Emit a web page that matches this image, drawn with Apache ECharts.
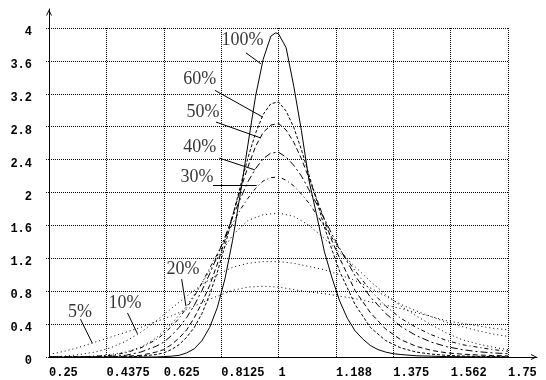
<!DOCTYPE html>
<html><head><meta charset="utf-8">
<script src="https://cdn.jsdelivr.net/npm/echarts@6/dist/echarts.min.js"></script>
<style>html,body{margin:0;padding:0;background:#fff}#c{width:546px;height:380px}</style>
</head><body><div id="c"></div>
<script>
// ---- tick labels ----
const xTickValues = [0.25, 0.4375, 0.625, 0.8125, 1, 1.1875, 1.375, 1.5625, 1.75];
const xTickLabels = ['0.25', '0.4375', '0.625', '0.8125', '1', '1.188', '1.375', '1.562', '1.75'];

// ---- series x grids ----
const xWide = [0.25,0.30,0.35,0.40,0.45,0.50,0.55,0.60,0.65,0.70,0.75,0.80,0.85,0.90,0.95,1.00,1.05,1.10,1.15,1.20,1.25,1.30,1.35,1.40,1.45,1.50,1.55,1.60,1.65,1.70,1.75];
const xMid = [0.25,0.30,0.35,0.40,0.45,0.50,0.55,0.60,0.625,0.65,0.675,0.70,0.725,0.75,0.775,0.80,0.825,0.85,0.875,0.90,0.925,0.95,0.975,1.00,1.025,1.05,1.075,1.10,1.125,1.15,1.175,1.20,1.25,1.30,1.35,1.40,1.45,1.50,1.55,1.60,1.65,1.70,1.75];
const xNarrow = [0.25,0.30,0.35,0.40,0.45,0.50,0.55,0.60,0.625,0.65,0.675,0.70,0.725,0.75,0.775,0.80,0.825,0.85,0.875,0.90,0.925,0.95,0.975,0.99,1.00,1.025,1.05,1.075,1.10,1.125,1.15,1.175,1.20,1.225,1.25,1.275,1.30,1.325,1.35,1.375,1.40,1.45,1.50,1.55,1.60,1.65,1.70,1.75];

// ---- series values ----
const y5   = [0.03,0.07,0.12,0.18,0.24,0.30,0.36,0.43,0.50,0.58,0.66,0.74,0.81,0.85,0.86,0.85,0.82,0.79,0.77,0.74,0.71,0.67,0.63,0.59,0.54,0.49,0.44,0.41,0.38,0.35,0.33];
const y10  = [0.00,0.01,0.03,0.06,0.11,0.19,0.30,0.44,0.59,0.74,0.88,1.00,1.09,1.14,1.16,1.16,1.14,1.10,1.06,1.00,0.93,0.84,0.74,0.64,0.56,0.49,0.42,0.37,0.32,0.28,0.25];
const y20  = [0,0,0.005,0.01,0.03,0.06,0.12,0.23,0.40,0.62,0.90,1.20,1.48,1.66,1.73,1.75,1.71,1.60,1.44,1.27,1.10,0.92,0.76,0.62,0.50,0.39,0.29,0.21,0.16,0.12,0.09];
const y30  = [0,0,0,0.01,0.02,0.05,0.11,0.21,0.28,0.37,0.47,0.60,0.74,0.90,1.08,1.25,1.44,1.62,1.79,1.93,2.05,2.14,2.18,2.19,2.15,2.08,1.98,1.87,1.73,1.59,1.45,1.31,1.05,0.81,0.62,0.47,0.36,0.27,0.20,0.15,0.12,0.09,0.07];
const y40  = [0,0,0,0,0.01,0.02,0.06,0.13,0.18,0.26,0.36,0.48,0.63,0.81,1.01,1.23,1.46,1.70,1.92,2.13,2.29,2.41,2.48,2.49,2.43,2.33,2.20,2.03,1.86,1.68,1.49,1.32,0.99,0.73,0.53,0.37,0.26,0.18,0.125,0.09,0.065,0.05,0.04];
const y50  = [0,0,0,0,0,0.01,0.02,0.06,0.09,0.15,0.23,0.33,0.48,0.66,0.87,1.13,1.42,1.72,2.03,2.31,2.56,2.73,2.82,2.84,2.76,2.61,2.41,2.17,1.92,1.67,1.41,1.20,0.81,0.54,0.34,0.21,0.13,0.08,0.05,0.035,0.025,0.018,0.013];
const y60  = [0,0,0,0,0,0,0.01,0.03,0.05,0.09,0.15,0.24,0.36,0.53,0.76,1.03,1.35,1.71,2.07,2.42,2.72,2.95,3.08,3.10,2.99,2.79,2.52,2.21,1.90,1.58,1.30,1.04,0.64,0.36,0.20,0.11,0.06,0.035,0.02,0.012,0.008,0.005,0.003];
const y100 = [0,0,0,0,0,0,0,0,0.005,0.01,0.02,0.05,0.10,0.20,0.36,0.60,0.95,1.42,1.98,2.58,3.17,3.62,3.90,3.94,3.93,3.76,3.29,2.75,2.14,1.72,1.28,0.96,0.68,0.47,0.32,0.22,0.14,0.09,0.06,0.04,0.03,0.015,0.01,0.005,0.003,0.002,0.001,0];

// ---- annotations (data coordinates) ----
const annText = ['100%', '60%', '50%', '40%', '30%', '20%', '10%', '5%'];
const annLabelAt = [[0.882,3.848],[0.743,3.372],[0.753,2.970],[0.743,2.556],[0.7335,2.190],[0.688,1.069],[0.498,0.654],[0.351,0.545]];
const annFrom = [[0.8936,3.698],[0.7923,3.242],[0.7956,2.857],[0.8064,2.418],[0.7858,2.084],[0.6835,0.947],[0.5065,0.536],[0.353,0.459]];
const annTo = [[0.9426,3.564],[0.948,2.918],[0.9426,2.662],[0.923,2.275],[0.9285,2.084],[0.6976,0.618],[0.539,0.283],[0.3915,0.167]];

const curves = [
  {name:'5%',   xs:xWide,   ys:y5,   dash:[1,3]},
  {name:'10%',  xs:xWide,   ys:y10,  dash:[1,3]},
  {name:'20%',  xs:xWide,   ys:y20,  dash:[1,3]},
  {name:'30%',  xs:xMid,    ys:y30,  dash:[1,3,4,3]},
  {name:'40%',  xs:xMid,    ys:y40,  dash:[7,3,2,3]},
  {name:'50%',  xs:xMid,    ys:y50,  dash:[5,3]},
  {name:'60%',  xs:xMid,    ys:y60,  dash:[3,2]},
  {name:'100%', xs:xNarrow, ys:y100, dash:'solid'}
];

const arrowPath = 'path://M0,10 L5,0 L10,10 L8.4,10 L5,3.2 L1.6,10 Z';
const monoLabel = {fontFamily:'Liberation Mono', fontWeight:'bold', fontSize:12, color:'#000'};

const series = curves.map(c => ({
  type:'line', name:c.name, xAxisIndex:0, yAxisIndex:0,
  data:c.xs.map((x,i)=>[x, c.ys[i]]),
  showSymbol:false, symbol:'none', smooth:false, silent:true,
  lineStyle:{color:'#000', width:1, type:c.dash}
}));

series.push({
  type:'scatter', xAxisIndex:0, yAxisIndex:0, silent:true,
  symbolSize:1, itemStyle:{color:'rgba(0,0,0,0)'},
  data: annText.map((t,i)=>({name:t, value:annLabelAt[i]})),
  label:{show:true, position:'inside', formatter:'{b}', fontFamily:'Liberation Serif', fontSize:18, color:'#000'},
  markLine:{
    silent:true, symbol:['none','none'], animation:false,
    lineStyle:{color:'#000', width:1, type:'solid'},
    label:{show:false},
    data: annFrom.map((f,i)=>[{coord:f},{coord:annTo[i]}])
  }
});

const chart = echarts.init(document.getElementById('c'), null, {renderer:'canvas'});
chart.setOption({
  backgroundColor:'#fff',
  animation:false,
  grid:[
    {left:49, right:38, top:28, bottom:23},
    {left:49, right:9, top:9, bottom:23}
  ],
  xAxis:[
    {type:'value', gridIndex:0, min:0.25, max:1.75,
     axisLine:{show:false},
     axisTick:{show:false, customValues:xTickValues},
     axisLabel:{show:true, customValues:xTickValues, align:'left', margin:10,
       formatter:(v)=>{const k=xTickValues.findIndex(t=>Math.abs(t-v)<1e-6); return k>=0?xTickLabels[k]:'';},
       ...monoLabel, showMinLabel:true, showMaxLabel:true},
     splitLine:{show:true, lineStyle:{color:'#000', width:1, type:[1,1]}}},
    {type:'value', gridIndex:1, min:0, max:1,
     axisLine:{show:true, onZero:false, symbol:['none', arrowPath], symbolSize:[6,6], symbolOffset:[0,-3], lineStyle:{color:'#000', width:1}},
     axisTick:{show:false}, axisLabel:{show:false}, splitLine:{show:false}}
  ],
  yAxis:[
    {type:'value', gridIndex:0, min:0, max:4, interval:0.4,
     axisLine:{show:false},
     axisTick:{show:true, length:4, lineStyle:{color:'#000', width:1, type:[1,1]}},
     axisLabel:{show:true, margin:17, verticalAlign:'top', lineHeight:8, ...monoLabel},
     splitLine:{show:true, lineStyle:{color:'#000', width:1, type:[1,1]}}},
    {type:'value', gridIndex:1, min:0, max:1,
     axisLine:{show:true, onZero:false, symbol:['none', arrowPath], symbolSize:[6,7], symbolOffset:[0,-3.5], lineStyle:{color:'#000', width:1}},
     axisTick:{show:false}, axisLabel:{show:false}, splitLine:{show:false}}
  ],
  series: series
});
</script>
</body></html>
